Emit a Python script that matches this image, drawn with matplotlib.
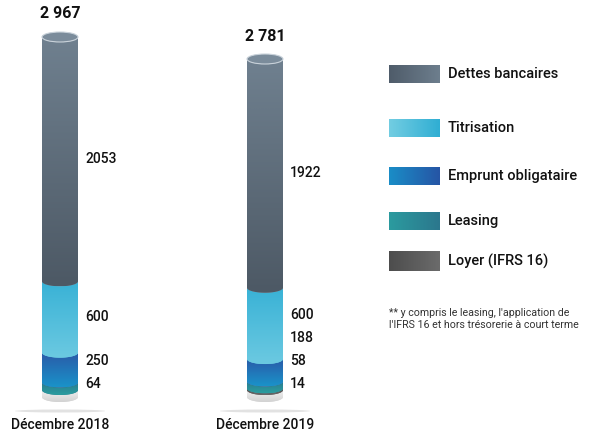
import numpy as np
import matplotlib
matplotlib.use("Agg")
import matplotlib.pyplot as plt
from matplotlib.path import Path
from matplotlib.patches import PathPatch, Ellipse
from matplotlib.colors import LinearSegmentedColormap

plt.rcParams['font.family'] = ['Roboto', 'DejaVu Sans']

# données
categories = ['Décembre 2018', 'Décembre 2019']
series = ['Loyer (IFRS 16)', 'Leasing', 'Emprunt obligataire', 'Titrisation', 'Dettes bancaires']
loyer = [0, 14]
leasing = [64, 58]
emprunt = [250, 188]
titrisation = [600, 600]
dettes = [2053, 1922]
totaux = ['2 967', '2 781']

valeurs = [loyer, leasing, emprunt, titrisation, dettes]

# couleurs (haut, bas) des segments
couleurs = {
    'Dettes bancaires': ('#6f808f', '#4d5965'),
    'Titrisation': ('#39b2d6', '#6bc9e1'),
    'Emprunt obligataire': ('#2a5aa8', '#1a92c9'),
    'Leasing': ('#2a7b8f', '#2a9d9f'),
    'Loyer (IFRS 16)': ('#4f4f4f', '#6a6a6a'),
}
# couleurs legende (gauche, droite)
couleurs_leg = {
    'Dettes bancaires': ('#4f5c6a', '#6d7e8d'),
    'Titrisation': ('#72cde2', '#30aed3'),
    'Emprunt obligataire': ('#1a8dc7', '#2655a5'),
    'Leasing': ('#2b9b9f', '#2b778d'),
    'Loyer (IFRS 16)': ('#4d4d4d', '#6b6b6b'),
}

W, H = 602, 434
fig = plt.figure(figsize=(W / 100, H / 100), dpi=100)
ax = fig.add_axes([0, 0, 1, 1])
ax.axis('off')

s = 353 / 2967.0          # pixels par unité
base_px = 390             # y pixel du zéro
x0_px, dx_px = 60, 205    # centre barre 1, écart entre barres
def py(p):
    return (base_px - p) / s

xlim = (-x0_px / dx_px, (W - x0_px) / dx_px)
ylim = (py(H), py(0))

a = 18 / dx_px            # demi-largeur
b = 5 / s                 # demi-hauteur ellipse


def segment(xc, y0, y1):
    t1 = np.linspace(np.pi, 0, 40)
    t2 = np.linspace(0, np.pi, 40)
    xs = np.concatenate([xc + a * np.cos(t1), xc + a * np.cos(t2)])
    ys = np.concatenate([y1 - b * np.sin(t1), y0 - b * np.sin(t2)])
    verts = np.column_stack([xs, ys])
    verts = np.vstack([verts, verts[:1]])
    codes = [Path.MOVETO] + [Path.LINETO] * (len(verts) - 2) + [Path.CLOSEPOLY]
    return Path(verts, codes)


def gradient(patch, extent, c1, c2, zorder=2):
    cmap = LinearSegmentedColormap.from_list('g', [c1, c2])
    g = np.linspace(0, 1, 64).reshape(-1, 1)
    im = ax.imshow(g, extent=extent, origin='upper', aspect='auto',
                   cmap=cmap, zorder=zorder, interpolation='bilinear')
    im.set_clip_path(patch)


for i, cat in enumerate(categories):
    xc = i
    # ombre
    ax.add_patch(Ellipse((xc, py(411)), 90 / dx_px, 3 / s, color='#cfcfcf',
                         alpha=0.6, lw=0, zorder=0))
    # socle gris
    p = PathPatch(segment(xc, py(397), 0), facecolor='#d9d9d9', edgecolor='none', zorder=1)
    ax.add_patch(p)
    gradient(p, [xc - a, xc + a, py(398) - b, 0], '#f0f0f0', '#d0d0d0', zorder=1)

    bas = 0
    mids = []
    for nom, vals in zip(series, valeurs):
        v = vals[i]
        if v == 0:
            continue
        haut = bas + v
        p = PathPatch(segment(xc, bas, haut), facecolor=couleurs[nom][0],
                      edgecolor='none', zorder=2)
        ax.add_patch(p)
        gradient(p, [xc - a, xc + a, bas - b, haut], couleurs[nom][0], couleurs[nom][1])
        mids.append(((bas + haut) / 2, v))
        bas = haut

    # ellipse du haut
    ax.add_patch(Ellipse((xc, bas), 2 * a, 2 * b, facecolor='#7b8c9b',
                         edgecolor='#c9d2da', lw=0.8, zorder=3))

    # étiquettes de valeur, espacées
    ecart = 23 / s
    prev = -1e9
    for m, v in mids:
        y = max(m, prev + ecart, 6 / s)
        ax.text(xc + 25 / dx_px, y, str(v), fontsize=10, fontweight='medium',
                va='center', ha='left', color='#111111', zorder=4)
        prev = y

    ax.text(xc, bas + 23 / s, totaux[i], fontsize=11.5, fontweight='bold',
            ha='center', va='center', color='#111111')
    ax.text(xc, py(425), cat, fontsize=10, fontweight='medium',
            ha='center', va='center', color='#111111')

# légende
leg_y = {'Dettes bancaires': 74, 'Titrisation': 128, 'Emprunt obligataire': 176,
         'Leasing': 221, 'Loyer (IFRS 16)': 261}
for nom in ['Dettes bancaires', 'Titrisation', 'Emprunt obligataire', 'Leasing', 'Loyer (IFRS 16)']:
    yc = leg_y[nom]
    x1, x2 = 389 / W, 440 / W
    y1, y2 = 1 - (yc + 9.5) / H, 1 - (yc - 9.5) / H
    ax2 = fig.add_axes([x1, y1, x2 - x1, y2 - y1])
    ax2.axis('off')
    cmap = LinearSegmentedColormap.from_list('l', couleurs_leg[nom])
    ax2.imshow(np.linspace(0, 1, 64).reshape(1, -1), aspect='auto', cmap=cmap,
               interpolation='bilinear')
    fig.text(448 / W, 1 - yc / H, nom, fontsize=10.5, fontweight='medium',
             va='center', ha='left', color='#111111')

fig.text(389 / W, 1 - 319 / H,
         "** y compris le leasing, l'application de\nl'IFRS 16 et hors trésorerie à court terme",
         fontsize=7.7, va='center', ha='left', color='#333333', linespacing=1.15)

ax.set_xlim(*xlim)
ax.set_ylim(*ylim)

fig.savefig('out.png', dpi=100)
